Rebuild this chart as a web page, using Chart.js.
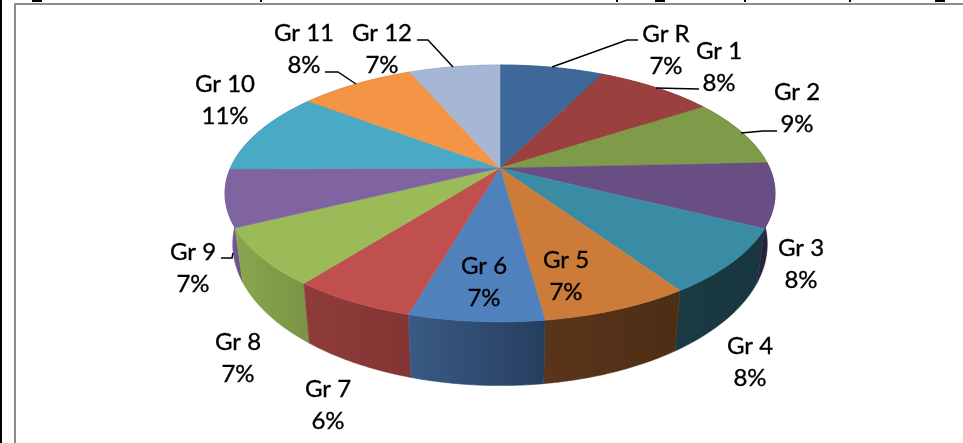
<!DOCTYPE html>
<html>
<head>
<meta charset="utf-8">
<style>
  html, body { margin: 0; padding: 0; background: #fff; }
  #wrap { width: 963px; height: 443px; position: relative; overflow: hidden; }
</style>
<script src="https://cdn.jsdelivr.net/npm/chart.js@4/dist/chart.umd.js"></script>
</head>
<body>
<div id="wrap"><canvas id="pie" width="963" height="443"></canvas></div>
<script>
// Groups and their share of the pie
const groups = ["Gr R", "Gr 1", "Gr 2", "Gr 3", "Gr 4", "Gr 5", "Gr 6", "Gr 7", "Gr 8", "Gr 9", "Gr 10", "Gr 11", "Gr 12"];
const shares = [7.4, 8.4, 8.6, 8.1, 8.2, 7.3, 6.6, 6.1, 7.2, 7.2, 10.5, 8.2, 6.5];

// Colours of the top faces and the two ends of each side wall
const topColors = ["#3e6899", "#9a403e", "#7f9a48", "#694e84", "#398ca3", "#cc7b38", "#4f81bd", "#c0504d", "#9bbb59", "#8064a2", "#4aa9c4", "#f39545", "#a6b6d5"];
const sideLeft = ["#2b4568", "#6a2c2a", "#576a31", "#2c2340", "#1a3a44", "#5a351b", "#3a5a85", "#8e3c3a", "#8aa64f", "#7a5e9b", "#3a8096", "#b06a30", "#7a88a0"];
const sideRight = ["#2b4568", "#6a2c2a", "#576a31", "#251d36", "#173640", "#4c2e15", "#263f5f", "#823533", "#7a9444", "#6a5088", "#3a8096", "#b06a30", "#7a88a0"];

// Label centres [x, first line y] and leader lines
const labelSpots = [[666, 34], [719, 51], [797, 92], [801, 248], [750, 346], [566, 260], [484, 266], [328, 389], [238, 342], [193, 252], [225, 84], [304, 33], [382, 33]];
const leaders = [
    [[552, 67], [627, 40], [638, 40]],
    [[656, 88], [699, 89]],
    [[741, 133], [763, 131], [777, 131]],
    [[221, 258], [232, 258], [233, 253]],
    [[325, 72], [338, 72], [356, 84]],
    [[417, 40], [428, 40], [453, 67]]
];

// Bits of a cropped line of text that still show above the frame [x, width]
const croppedBits = [[32, 10], [260, 2], [616, 2], [655, 10], [744, 2], [849, 2], [935, 10]];

// Perspective of the disc: top face and bottom face
const topFace = { cx: 500, cy: 168, rx: 269.6, ry: 123.4, k: 0.198 };
const bottomFace = { cx: 500, cy: 216, rx: 262, ry: 136, k: 0.198 };

function project(face, angle) {
    const x = Math.cos(angle), y = Math.sin(angle);
    const w = 1 - face.k * y;
    return [face.cx + face.rx * x / w, face.cy + face.ry * y / w];
}

function edgePoints(face, start, end) {
    const pts = [];
    const steps = 40;
    for (let i = 0; i <= steps; i++) {
        pts.push(project(face, start + (end - start) * i / steps));
    }
    return pts;
}

function fillPath(ctx, pts, fill) {
    ctx.beginPath();
    pts.forEach((p, i) => i ? ctx.lineTo(p[0], p[1]) : ctx.moveTo(p[0], p[1]));
    ctx.closePath();
    ctx.fillStyle = fill;
    ctx.fill();
    ctx.strokeStyle = fill;
    ctx.lineWidth = 0.5;
    ctx.stroke();
}

// Chart.js works out the slice angles, this plugin paints them tilted
const tiltedPie = {
    id: 'tiltedPie',
    beforeDatasetsDraw(chart) {
        const ctx = chart.ctx;
        const arcs = chart.getDatasetMeta(0).data;
        const order = arcs.map((arc, i) => i).sort((a, b) =>
            Math.sin((arcs[a].startAngle + arcs[a].endAngle) / 2) - Math.sin((arcs[b].startAngle + arcs[b].endAngle) / 2));

        // side walls, back to front
        order.forEach(i => {
            const arc = arcs[i];
            const upper = edgePoints(topFace, arc.startAngle, arc.endAngle);
            const lower = edgePoints(bottomFace, arc.startAngle, arc.endAngle).reverse();
            const xs = upper.concat(lower).map(p => p[0]);
            const grad = ctx.createLinearGradient(Math.min(...xs), 0, Math.max(...xs), 0);
            grad.addColorStop(0, sideLeft[i]);
            grad.addColorStop(1, sideRight[i]);
            fillPath(ctx, upper.concat(lower), grad);
        });

        // top faces
        arcs.forEach((arc, i) => {
            fillPath(ctx, [[topFace.cx, topFace.cy]].concat(edgePoints(topFace, arc.startAngle, arc.endAngle)), topColors[i]);
        });
        return false;
    },
    afterDraw(chart) {
        const ctx = chart.ctx;
        ctx.save();

        // page frame
        ctx.fillStyle = '#000';
        ctx.fillRect(0, 0, 2, 443);
        croppedBits.forEach(bit => ctx.fillRect(bit[0], 0, bit[1], 2));
        ctx.fillStyle = '#8c8c8c';
        ctx.fillRect(14, 3, 949, 2);
        ctx.fillRect(14, 3, 2, 440);

        // leader lines
        ctx.strokeStyle = '#000';
        ctx.lineWidth = 1.5;
        leaders.forEach(line => {
            ctx.beginPath();
            line.forEach((p, i) => i ? ctx.lineTo(p[0], p[1]) : ctx.moveTo(p[0], p[1]));
            ctx.stroke();
        });

        // labels
        ctx.fillStyle = '#000';
        ctx.strokeStyle = '#000';
        ctx.lineWidth = 0.35;
        ctx.font = '24px Lato';
        ctx.textAlign = 'center';
        ctx.textBaseline = 'middle';
        groups.forEach((name, i) => {
            const spot = labelSpots[i];
            const pct = Math.round(shares[i]) + '%';
            ctx.fillText(name, spot[0], spot[1]);
            ctx.strokeText(name, spot[0], spot[1]);
            ctx.fillText(pct, spot[0], spot[1] + 32);
            ctx.strokeText(pct, spot[0], spot[1] + 32);
        });
        ctx.restore();
    }
};

new Chart(document.getElementById('pie').getContext('2d'), {
    type: 'pie',
    data: {
        labels: groups,
        datasets: [{ data: shares, backgroundColor: topColors }]
    },
    options: {
        responsive: false,
        animation: false,
        plugins: { legend: { display: false }, tooltip: { enabled: false } }
    },
    plugins: [tiltedPie]
});
</script>
</body>
</html>
